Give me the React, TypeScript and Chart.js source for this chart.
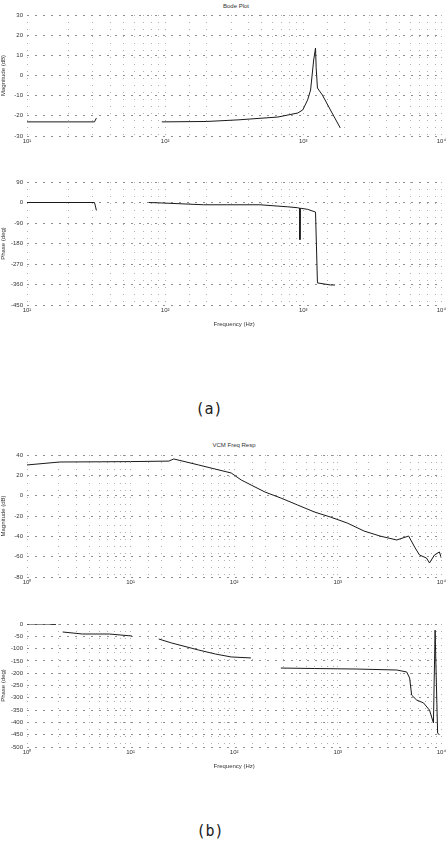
import React, { useEffect, useRef } from "react";
import { Chart, registerables } from "chart.js";

Chart.register(...registerables);

// ---- (a) Bode plot data ----
const aMagFreq = [10, 20, 30.8, 31.8, 32.5, 94.7, 200, 338, 655, 912, 991, 1076, 1130, 1190, 1227, 1240, 1267, 1376, 1574, 1853];
const aMagDb = [-23, -23, -23, -21.1, null, -23, -22.8, -22, -20.6, -18.6, -17.1, -12.1, -7.2, 7.7, 13.6, 4, -6.2, -9.7, -17.1, -26];

const aPhaseFreq = [10, 30.8, 31.4, 31.8, 32.5, 76.4, 94.7, 190, 277, 486, 773, 912, 942, 946, 952, 1076, 1227, 1267, 1574, 1700];
const aPhaseDeg = [0, 0, -20, -35, null, 0, -2, -10, -10, -10, -19, -23, -25, -163, -25, -30, -42, -353, -362, -362];

// ---- (b) VCM frequency response data ----
const bMagFreq = [1, 2.07, 5, 10, 23.4, 26.1, 45.3, 93.6, 117, 198, 282, 410, 596, 848, 1233, 1794, 2553, 3710, 4833, 5517, 6158, 7180, 7680, 8570, 9570, 10000];
const bMagDb = [30.2, 33.1, 33.3, 33.5, 34, 36.1, 30.2, 22.3, 15.4, 3.6, -2.3, -9.2, -16.1, -21, -26.9, -34.8, -39.7, -43.6, -39.7, -50.5, -58.4, -61.3, -66.2, -58.4, -55.4, -61.3];

const bPhaseFreq = [1, 1.6, 1.9, 2.0, 2.21, 3.43, 6.23, 10.3, 12, 18.7, 24.9, 45.3, 65.8, 93.6, 145, 180, 282, 600, 1500, 3710, 4624, 4940, 5164, 5763, 6730, 7680, 8380, 8700, 8960, 9200, 9570];
const bPhaseDeg = [0, 0, -2, null, -32.5, -40.7, -40.7, -48.8, null, -61, -77.2, -105.7, -122, -134, -138, null, -179, -181, -183, -187, -195, -220, -289, -309, -321, -350, -402, -25, -250, -443, -451];

// ---- tick labels ----
const aDecades = ["10¹", "10²", "10³", "10⁴"];
const bDecades = ["10⁰", "10¹", "10²", "10³", "10⁴"];
const aMagTicks = [-30, -20, -10, 0, 10, 20, 30];
const aPhaseTicks = [-450, -360, -270, -180, -90, 0, 90];
const bMagTicks = [-80, -60, -40, -20, 0, 20, 40];
const bPhaseTicks = [-500, -450, -400, -350, -300, -250, -200, -150, -100, -50, 0];

const FONT = "'Liberation Sans', Arial, sans-serif";

type PanelProps = {
  top: number;
  height: number;
  padTop: number;
  xHeight: number;
  xMin: number;
  xMax: number;
  decadeLabels: string[];
  yTicks: number[];
  yTitle: string;
  xTitle?: string;
  freq: number[];
  values: (number | null)[];
};

function Panel(p: PanelProps) {
  const ref = useRef<HTMLCanvasElement>(null);
  useEffect(() => {
    if (!ref.current) return;
    const startExp = Math.round(Math.log10(p.xMin));
    const chart = new Chart(ref.current, {
      type: "line",
      data: {
        datasets: [
          {
            data: p.freq.map((f, i) => ({ x: f, y: p.values[i] as any })),
            borderColor: "#1a1a1a",
            borderWidth: 1,
            pointRadius: 0,
            spanGaps: false,
            tension: 0,
            fill: false,
          },
        ],
      },
      options: {
        animation: false,
        responsive: false,
        devicePixelRatio: 1,
        events: [],
        layout: { padding: { top: p.padTop, right: 3, left: 0, bottom: 0 } },
        plugins: { legend: { display: false }, tooltip: { enabled: false }, title: { display: false } },
        scales: {
          x: {
            type: "logarithmic",
            min: p.xMin,
            max: p.xMax,
            afterFit: (s: any) => {
              s.height = p.xHeight;
            },
            grid: { color: "#b0b0b0", lineWidth: 1, drawTicks: false },
            border: { display: false, dash: [1, 6] },
            ticks: {
              autoSkip: false,
              maxRotation: 0,
              padding: 2,
              color: "#333",
              font: { size: 6, family: FONT },
              callback: (v: any) => {
                const e = Math.log10(Number(v));
                if (Math.abs(e - Math.round(e)) < 1e-9) {
                  const idx = Math.round(e) - startExp;
                  return p.decadeLabels[idx] ?? "";
                }
                return "";
              },
            },
            title: {
              display: !!p.xTitle,
              text: p.xTitle || "",
              color: "#333",
              font: { size: 6, family: FONT },
              padding: 0,
            },
          },
          y: {
            type: "linear",
            min: p.yTicks[0],
            max: p.yTicks[p.yTicks.length - 1],
            afterFit: (s: any) => {
              s.width = 27;
            },
            afterBuildTicks: (s: any) => {
              s.ticks = p.yTicks.map((v) => ({ value: v }));
            },
            grid: { color: "#8f8f8f", lineWidth: 1, drawTicks: false },
            border: { display: false, dash: [2, 6] },
            ticks: {
              padding: 4,
              color: "#333",
              font: { size: 6, family: FONT },
            },
            title: {
              display: true,
              text: p.yTitle,
              color: "#333",
              font: { size: 6, family: FONT },
              padding: 0,
            },
          },
        },
      },
    } as any);
    return () => chart.destroy();
  }, []);
  return (
    <canvas
      ref={ref}
      width={448}
      height={p.height}
      style={{ position: "absolute", left: 0, top: p.top, width: 448, height: p.height }}
    />
  );
}

export default function App() {
  return (
    <div
      style={{
        position: "fixed",
        left: 0,
        top: 0,
        width: 448,
        height: 842,
        background: "#fff",
        overflow: "hidden",
      }}
    >
      <div style={{ position: "absolute", left: 186, top: 3, width: 100, textAlign: "center", fontSize: 6, fontFamily: FONT, color: "#333" }}>
        Bode Plot
      </div>
      <Panel top={0} height={150} padTop={15} xHeight={14} xMin={10} xMax={10000} decadeLabels={aDecades} yTicks={aMagTicks} yTitle="Magnitude (dB)" freq={aMagFreq} values={aMagDb} />
      <Panel top={170} height={158} padTop={12} xHeight={23} xMin={10} xMax={10000} decadeLabels={aDecades} yTicks={aPhaseTicks} yTitle="Phase (deg)" xTitle="Frequency (Hz)" freq={aPhaseFreq} values={aPhaseDeg} />
      <div style={{ position: "absolute", left: 0, top: 400, width: 418, textAlign: "center", fontSize: 15, fontFamily: "'DejaVu Sans Mono', monospace", color: "#222" }}>
        (a)
      </div>

      <div style={{ position: "absolute", left: 184, top: 442, width: 100, textAlign: "center", fontSize: 6, fontFamily: FONT, color: "#333" }}>
        VCM Freq Resp
      </div>
      <Panel top={440} height={150} padTop={15} xHeight={13} xMin={1} xMax={10000} decadeLabels={bDecades} yTicks={bMagTicks} yTitle="Magnitude (dB)" freq={bMagFreq} values={bMagDb} />
      <Panel top={610} height={160} padTop={14} xHeight={23} xMin={1} xMax={10000} decadeLabels={bDecades} yTicks={bPhaseTicks} yTitle="Phase (deg)" xTitle="Frequency (Hz)" freq={bPhaseFreq} values={bPhaseDeg} />
      <div style={{ position: "absolute", left: 0, top: 822, width: 420, textAlign: "center", fontSize: 15, fontFamily: "'DejaVu Sans Mono', monospace", color: "#222" }}>
        (b)
      </div>
    </div>
  );
}
